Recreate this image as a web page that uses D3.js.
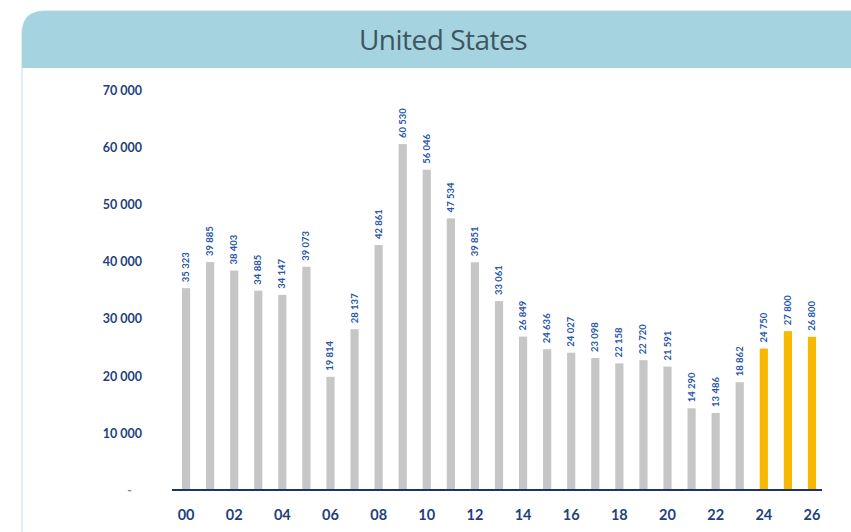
<!DOCTYPE html>
<html>
<head>
<meta charset="utf-8">
<script src="https://cdn.jsdelivr.net/npm/d3@7/dist/d3.min.js"></script>
<style>
  html, body { margin: 0; padding: 0; background: #ffffff; }
  svg { display: block; }
</style>
</head>
<body>
<svg id="chart" width="851" height="532"></svg>
<script>
// Annual values, 2000–2026 (last three are forecasts)
const years = d3.range(2000, 2027);
const values = [35323, 39885, 38403, 34885, 34147, 39073, 19814, 28137, 42861, 60530,
                56046, 47534, 39851, 33061, 26849, 24636, 24027, 23098, 22158, 22720,
                21591, 14290, 13486, 18862, 24750, 27800, 26800];
const forecastFrom = 2024;
const yTicks = [0, 10000, 20000, 30000, 40000, 50000, 60000, 70000];
const title = "United States";

const locale = d3.formatLocale({ decimal: ",", thousands: " ", grouping: [3], currency: ["", ""] });
const fmt = locale.format(",d");

const svg = d3.select("#chart");
const W = 851, H = 532;

// Card with rounded header band
const cardX = 22, cardY = 11, cardR = 22, headH = 57;
const cardW = W - cardX + 40;
svg.append("rect")
  .attr("x", cardX).attr("y", cardY)
  .attr("width", cardW).attr("height", H + 40)
  .attr("rx", cardR)
  .attr("fill", "#ffffff")
  .attr("stroke", "#d6e9ef").attr("stroke-width", 1.5);
// header: rounded top, square bottom
const hx = cardX, hy = cardY, hw = cardW, hh = headH, r = cardR;
svg.append("path")
  .attr("d", `M${hx},${hy + hh} L${hx},${hy + r} Q${hx},${hy} ${hx + r},${hy} L${hx + hw},${hy} L${hx + hw},${hy + hh} Z`)
  .attr("fill", "#a5d4e0");
svg.append("text")
  .attr("x", 443).attr("y", 50)
  .attr("text-anchor", "middle")
  .attr("font-family", "'Open Sans', Lato, sans-serif")
  .attr("font-size", 28)
  .attr("letter-spacing", -0.5)
  .attr("fill", "#3e5660")
  .text(title);

// Scales
const x = d3.scaleBand()
  .domain(years)
  .range([174, 824])
  .paddingInner(0.66)
  .paddingOuter(0.33);
const y = d3.scaleLinear()
  .domain([0, 70000])
  .range([490, 90]);

const navy = "#1f3f7f";
const blue = "#2a56a8";

// Y axis labels
const yAxis = svg.append("g").attr("transform", "translate(142,0)")
  .call(d3.axisLeft(y).tickValues(yTicks).tickSize(0).tickPadding(0)
    .tickFormat(d => d === 0 ? "-" : fmt(d)));
yAxis.select(".domain").remove();
yAxis.selectAll("text")
  .attr("font-family", "Lato, 'Open Sans', sans-serif")
  .attr("font-weight", "bold")
  .attr("font-size", 12.5)
  .attr("fill", navy)
  .attr("dy", "0.35em");
yAxis.selectAll(".tick").filter(d => d === 0).select("text")
  .attr("dx", -10).attr("fill", "#888");

// Bars
svg.append("g").selectAll("rect")
  .data(years)
  .join("rect")
  .attr("x", (d) => x(d))
  .attr("width", x.bandwidth())
  .attr("y", (d, i) => y(values[i]))
  .attr("height", (d, i) => y(0) - y(values[i]))
  .attr("fill", d => d >= forecastFrom ? "#f6b900" : "#c6c6c6");

// Value labels, rotated
svg.append("g").selectAll("text")
  .data(years)
  .join("text")
  .attr("transform", (d, i) => `translate(${x(d) + x.bandwidth() / 2 + 3},${y(values[i]) - 6}) rotate(-90)`)
  .attr("font-family", "Lato, 'Open Sans', sans-serif")
  .attr("font-weight", "bold")
  .attr("font-size", 9.5)
  .attr("fill", blue)
  .text((d, i) => fmt(values[i]));

// X axis
const xAxis = svg.append("g").attr("transform", "translate(0,490)")
  .call(d3.axisBottom(x).tickSize(0).tickPadding(20)
    .tickFormat(d => (d % 2 === 0) ? String(d).slice(2) : ""));
xAxis.select(".domain")
  .attr("d", "M172,0H822")
  .attr("stroke", "#1b3566").attr("stroke-width", 2);
xAxis.selectAll("text")
  .attr("font-family", "Lato, 'Open Sans', sans-serif")
  .attr("font-weight", "bold")
  .attr("font-size", 14.5)
  .attr("fill", navy);
</script>
</body>
</html>
